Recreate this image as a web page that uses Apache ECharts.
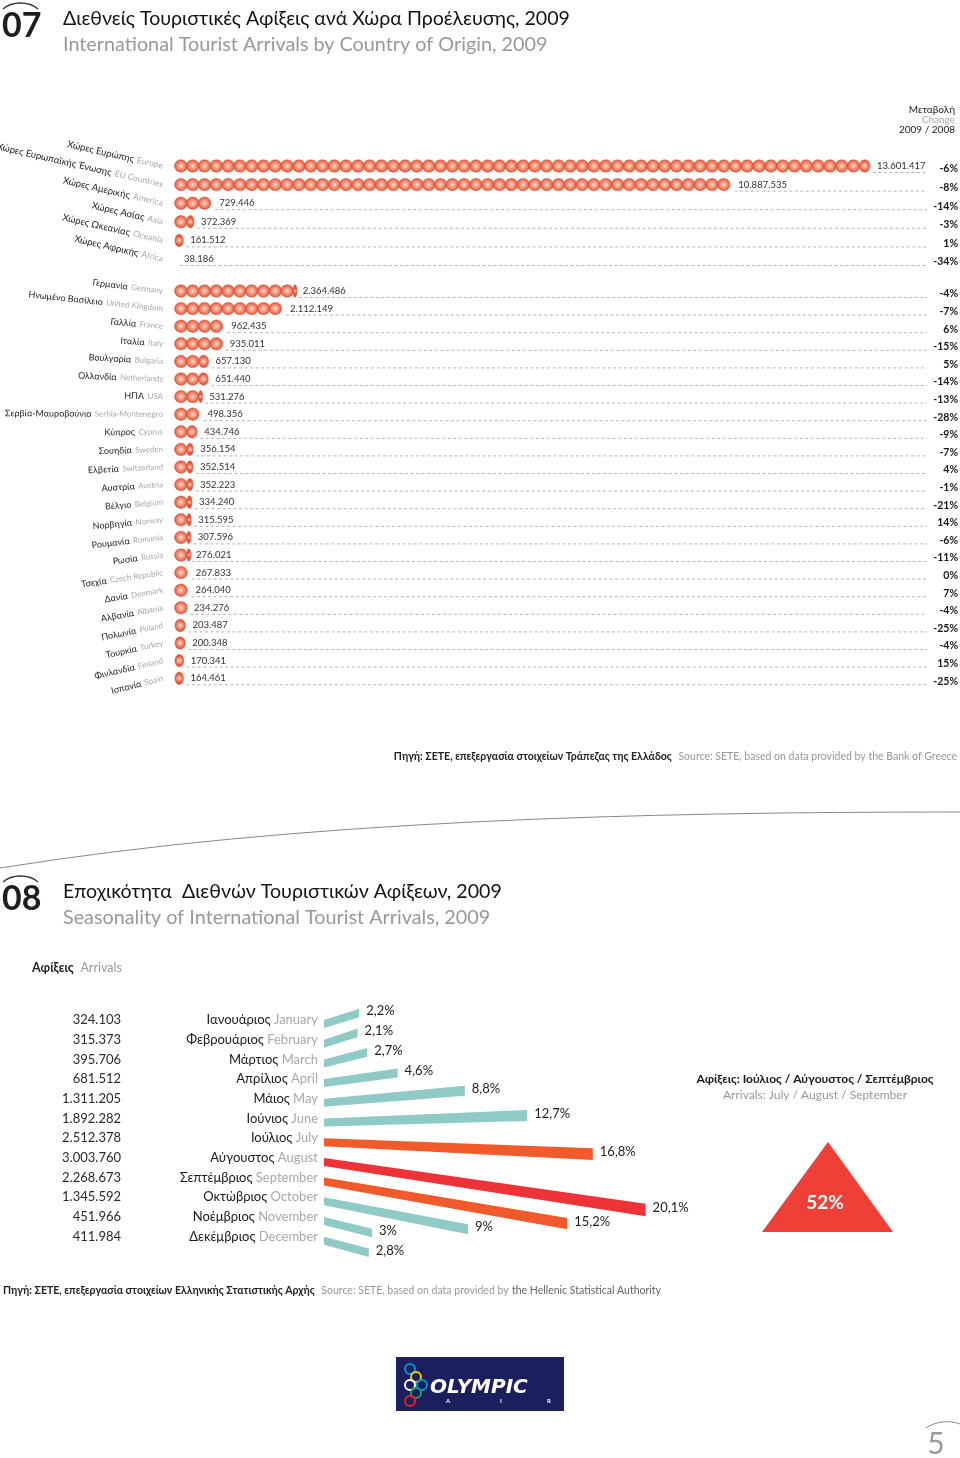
<!DOCTYPE html>
<html><head><meta charset="utf-8">
<script src="https://cdn.jsdelivr.net/npm/echarts@6/dist/echarts.min.js"></script>
<style>html,body{margin:0;padding:0;background:#fff}#c{width:960px;height:1458px}</style>
</head><body><div id="c"></div>
<script>
// ---------- DATA ----------
const regionsGr = ['Χώρες Ευρώπης','Χώρες Ευρωπαϊκής Ένωσης','Χώρες Αμερικής','Χώρες Ασίας','Χώρες Ωκεανίας','Χώρες Αφρικής'];
const regionsEn = ['Europe','EU Countries','America','Asia','Oceania','Africa'];
const regionArrivals = [13601417,10887535,729446,372369,161512,38186];
const regionChange = [-6,-8,-14,-3,1,-34];

const countriesGr = ['Γερμανία','Ηνωμένο Βασίλειο','Γαλλία','Ιταλία','Βουλγαρία','Ολλανδία','ΗΠΑ','Σερβία-Μαυροβούνιο','Κύπρος','Σουηδία','Ελβετία','Αυστρία','Βέλγιο','Νορβηγία','Ρουμανία','Ρωσία','Τσεχία','Δανία','Αλβανία','Πολωνία','Τουρκία','Φινλανδία','Ισπανία'];
const countriesEn = ['Germany','United Kingdom','France','Italy','Bulgaria','Netherlands','USA','Serbia-Montenegro','Cyprus','Sweden','Switzerland','Austria','Belgium','Norway','Romania','Russia','Czech Republic','Denmark','Albania','Poland','Turkey','Finland','Spain'];
const countryArrivals = [2364486,2112149,962435,935011,657130,651440,531276,498356,434746,356154,352514,352223,334240,315595,307596,276021,267833,264040,234276,203487,200348,170341,164461];
const countryChange = [-4,-7,6,-15,5,-14,-13,-28,-9,-7,4,-1,-21,14,-6,-11,0,7,-4,-25,-4,15,-25];

const monthsGr = ['Ιανουάριος','Φεβρουάριος','Μάρτιος','Απρίλιος','Μάιος','Ιούνιος','Ιούλιος','Αύγουστος','Σεπτέμβριος','Οκτώβριος','Νοέμβριος','Δεκέμβριος'];
const monthsEn = ['January','February','March','April','May','June','July','August','September','October','November','December'];
const monthArrivals = [324103,315373,395706,681512,1311205,1892282,2512378,3003760,2268673,1345592,451966,411984];
const monthShare = [2.2,2.1,2.7,4.6,8.8,12.7,16.8,20.1,15.2,9,3,2.8];
const peakMonthsEn = ['July','August','September'];
const peakShare = 52;

const title07Gr = 'Διεθνείς Τουριστικές Αφίξεις ανά Χώρα Προέλευσης, 2009';
const title07En = 'International Tourist Arrivals by Country of Origin, 2009';
const title08Gr = 'Εποχικότητα  Διεθνών Τουριστικών Αφίξεων, 2009';
const title08En = 'Seasonality of International Tourist Arrivals, 2009';

// ---------- STYLE / LAYOUT ----------
const FONT = 'Lato, "Open Sans", "DejaVu Sans", sans-serif';
const fanEndDy = [-11,-11,-11,-10,-12,-7,12,48,42,28,12,12];
const bubbleGrad = {type:'radial', x:0.5, y:0.5, r:0.5, colorStops:[
  {offset:0, color:'#fde0d4'},{offset:0.45, color:'#f59a80'},{offset:1, color:'#e4553c'}]};

function fmt(v){ return String(v).replace(/\B(?=(\d{3})+(?!\d))/g,'.'); }

function bubbleRender(grs, ens, changes, rotFn, grSize, enSize){
  return function(params, api){
    const i = params.dataIndex;
    const v = api.value(0);
    const s = api.coord([0, api.value(1)]);
    const e = api.coord([v, api.value(1)]);
    const cy = s[1];
    const d = 11.8;
    const len = e[0] - s[0];
    const n = Math.floor(len / d);
    const rem = len - n * d;
    const ch = [];
    ch.push({type:'line', shape:{x1:e[0]+3, y1:cy+6.5, x2:927, y2:cy+6.5},
      style:{stroke:'#a3a3a3', lineWidth:0.8, lineDash:[3,2.5]}});
    for (let k = 0; k < n; k++) {
      ch.push({type:'ellipse', shape:{cx:s[0]+d*k+d/2, cy:cy, rx:d/2+0.4, ry:6.2},
        style:{fill:bubbleGrad, stroke:'#d9452c', lineWidth:0.5}});
    }
    if (rem >= 2) {
      const w = Math.max(rem, 4);
      ch.push({type:'ellipse', shape:{cx:s[0]+n*d+w/2, cy:cy, rx:w/2, ry:6.2},
        style:{fill:bubbleGrad, stroke:'#d9452c', lineWidth:0.5}});
    }
    ch.push({type:'text', x:e[0]+7, y:cy, style:{text:fmt(v), fontSize:9.5, fontFamily:FONT, fill:'#333', verticalAlign:'middle'}});
    ch.push({type:'text', x:958, y:cy+3, style:{text:changes[i]+'%', fontSize:10.5, fontWeight:'bold', fontFamily:FONT, fill:'#1a1a1a', align:'right', verticalAlign:'middle'}});
    ch.push({type:'text', x:163, y:cy, rotation:rotFn(i)*Math.PI/180,
      style:{text:'{g|'+grs[i]+'} {e|'+ens[i]+'}', align:'right', verticalAlign:'middle',
        rich:{g:{fontSize:grSize, fontFamily:FONT, fill:'#1e1e1e'}, e:{fontSize:enSize, fontFamily:FONT, fill:'#a8a8a8'}}}});
    return {type:'group', children:ch};
  };
}

function fanRender(params, api){
  const i = params.dataIndex;
  const v = api.value(0);
  const s = api.coord([0, api.value(1)]);
  const e = api.coord([v, api.value(1)]);
  const cy = s[1];
  const y0 = cy + 4, y1 = y0 + fanEndDy[i];
  const len = e[0] - s[0];
  const t0 = 8, t1 = 8 + len * 0.014;
  const isPeak = peakMonthsEn.indexOf(monthsEn[i]) >= 0;
  const isMax = v === Math.max.apply(null, monthShare);
  const color = isMax ? '#ed3338' : (isPeak ? '#f15a2b' : '#8fcac6');
  const ch = [];
  ch.push({type:'polygon', shape:{points:[[s[0], y0-t0/2],[e[0], y1-t1/2],[e[0], y1+t1/2],[s[0], y0+t0/2]]}, style:{fill:color}});
  ch.push({type:'text', x:e[0]+7, y:y1-2, style:{text:String(v).replace('.',',')+'%', fontSize:13, fontFamily:FONT, fill:'#1e1e1e', verticalAlign:'middle'}});
  ch.push({type:'text', x:318, y:cy, style:{text:'{g|'+monthsGr[i]+'} {e|'+monthsEn[i]+'}', align:'right', verticalAlign:'middle',
    rich:{g:{fontSize:13, fontFamily:FONT, fill:'#1a1a1a'}, e:{fontSize:13, fontFamily:FONT, fill:'#a8a8a8'}}}});
  ch.push({type:'text', x:121, y:cy, style:{text:fmt(monthArrivals[i]), fontSize:13, fontFamily:FONT, fill:'#2a2a2a', align:'right', verticalAlign:'middle'}});
  return {type:'group', children:ch};
}

function txt(x, y, text, size, fill, opts){
  return Object.assign({type:'text', x:x, y:y, silent:true,
    style:Object.assign({text:text, fontSize:size, fontFamily:FONT, fill:fill, verticalAlign:'middle'}, opts||{})});
}
function richTxt(x, y, text, rich, align){
  return {type:'text', x:x, y:y, style:{text:text, rich:rich, align:align||'left', verticalAlign:'middle'}};
}

const chart = echarts.init(document.getElementById('c'), null, {renderer:'canvas'});
const option = {
  animation:false,
  backgroundColor:'#ffffff',
  grid:[
    {left:175, top:156.7, width:766.5, height:111.6},
    {left:175, top:282.2, width:766.5, height:404.8},
    {left:324, top:1010.15, width:400, height:236.4}
  ],
  xAxis:[
    {gridIndex:0, type:'value', min:0, max:15000000, show:false},
    {gridIndex:1, type:'value', min:0, max:15000000, show:false},
    {gridIndex:2, type:'value', min:0, max:25, show:false}
  ],
  yAxis:[
    {gridIndex:0, type:'category', data:regionsEn, inverse:true, show:false},
    {gridIndex:1, type:'category', data:countriesEn, inverse:true, show:false},
    {gridIndex:2, type:'category', data:monthsEn, inverse:true, show:false}
  ],
  series:[
    {type:'custom', xAxisIndex:0, yAxisIndex:0, data:regionArrivals.map((v,i)=>[v,i]), encode:{x:0,y:1},
      renderItem:bubbleRender(regionsGr, regionsEn, regionChange, ()=>-13, 9.5, 8.5)},
    {type:'custom', xAxisIndex:1, yAxisIndex:1, data:countryArrivals.map((v,i)=>[v,i]), encode:{x:0,y:1},
      renderItem:bubbleRender(countriesGr, countriesEn, countryChange, (i)=>-(7 - 21*i/22), 9, 8)}, 
    {type:'custom', xAxisIndex:2, yAxisIndex:2, data:monthShare.map((v,i)=>[v,i]), encode:{x:0,y:1},
      renderItem:fanRender}
  ],
  graphic:[
    // section 07 header
    txt(2, 26, '07', 34, '#1e1e1e', {fontWeight:'bold'}),
    {type:'bezierCurve', shape:{x1:3,y1:9,x2:38,y2:9,cpx1:12,cpy1:1,cpx2:29,cpy2:1}, style:{stroke:'#333', lineWidth:1.3, fill:null}},
    txt(63, 19, title07Gr, 19.6, '#151515'),
    txt(63, 45, title07En, 19.8, '#999'),
    txt(955, 110, 'Μεταβολή', 10, '#222', {align:'right'}),
    txt(955, 120, 'Change', 10, '#aaa', {align:'right'}),
    txt(955, 130, '2009 / 2008', 10, '#222', {align:'right'}),
    richTxt(957, 757, '{b|Πηγή: ΣΕΤΕ, επεξεργασία στοιχείων Τράπεζας της Ελλάδος}  {g|Source: SETE, based on data provided by the Bank of Greece}',
      {b:{fontSize:10.5, fontWeight:'bold', fontFamily:FONT, fill:'#222'}, g:{fontSize:10.5, fontFamily:FONT, fill:'#999'}}, 'right'),
    // divider
    {type:'bezierCurve', shape:{x1:0,y1:868,x2:960,y2:812,cpx1:300,cpy1:820,cpx2:640,cpy2:812}, style:{stroke:'#888', lineWidth:1, fill:null}},
    // section 08 header
    txt(2, 899, '08', 34, '#1e1e1e', {fontWeight:'bold'}),
    {type:'bezierCurve', shape:{x1:3,y1:882,x2:38,y2:882,cpx1:12,cpy1:874,cpx2:29,cpy2:874}, style:{stroke:'#333', lineWidth:1.3, fill:null}},
    txt(63, 892, title08Gr, 19.6, '#151515'),
    txt(63, 918, title08En, 19.8, '#999'),
    richTxt(32, 968, '{b|Αφίξεις}  {g|Arrivals}',
      {b:{fontSize:12.5, fontWeight:'bold', fontFamily:FONT, fill:'#222'}, g:{fontSize:12.5, fontFamily:FONT, fill:'#999'}}),
    // right panel
    txt(815, 1079, 'Αφίξεις: ' + peakMonthsEn.map(m=>monthsGr[monthsEn.indexOf(m)]).join(' / '), 12, '#1a1a1a', {align:'center', fontWeight:'bold'}),
    txt(815, 1095, 'Arrivals: ' + peakMonthsEn.join(' / '), 12, '#999', {align:'center'}),
    {type:'polygon', shape:{points:[[828,1142],[762,1232],[893,1232]]}, style:{fill:'#ee4037'}},
    txt(825, 1203, peakShare + '%', 19, '#ffffff', {align:'center', fontWeight:'bold'}),
    // source 08
    richTxt(3, 1291, '{b|Πηγή: ΣΕΤΕ, επεξεργασία στοιχείων Ελληνικής Στατιστικής Αρχής}  {g|Source: SETE, based on data provided by} {d|the Hellenic Statistical Authority}',
      {b:{fontSize:10.5, fontWeight:'bold', fontFamily:FONT, fill:'#222'}, g:{fontSize:10.5, fontFamily:FONT, fill:'#999'}, d:{fontSize:10.5, fontFamily:FONT, fill:'#666'}}),
    // logo
    {type:'rect', shape:{x:396, y:1357, width:168, height:54}, style:{fill:'#1c1f5e'}},
    {type:'circle', shape:{cx:410, cy:1369, r:5}, style:{fill:null, stroke:'#0a8fd1', lineWidth:2}},
    {type:'circle', shape:{cx:416, cy:1377, r:5}, style:{fill:null, stroke:'#f6c400', lineWidth:2}},
    {type:'circle', shape:{cx:410, cy:1385, r:5}, style:{fill:null, stroke:'#ffffff', lineWidth:2}},
    {type:'circle', shape:{cx:416, cy:1393, r:5}, style:{fill:null, stroke:'#19a34a', lineWidth:2}},
    {type:'circle', shape:{cx:410, cy:1401, r:5}, style:{fill:null, stroke:'#e3202b', lineWidth:2}},
    {type:'circle', shape:{cx:422, cy:1385, r:5}, style:{fill:null, stroke:'#0a8fd1', lineWidth:2}},
    txt(430, 1388, 'OLYMPIC', 20, '#ffffff', {fontWeight:'900', fontStyle:'italic', fontFamily:'"DejaVu Sans", sans-serif'}),
    txt(446, 1401, 'A', 6, '#ffffff', {fontWeight:'bold'}),
    txt(500, 1401, 'I', 6, '#ffffff', {fontWeight:'bold'}),
    txt(547, 1401, 'R', 6, '#ffffff', {fontWeight:'bold'}),
    // page number
    {type:'bezierCurve', shape:{x1:926,y1:1428,x2:960,y2:1424,cpx1:936,cpy1:1421,cpx2:950,cpy2:1420}, style:{stroke:'#888', lineWidth:1, fill:null}},
    txt(936, 1444, '5', 30, '#999', {align:'center'})
  ]
};
chart.setOption(option);
</script>
</body></html>
